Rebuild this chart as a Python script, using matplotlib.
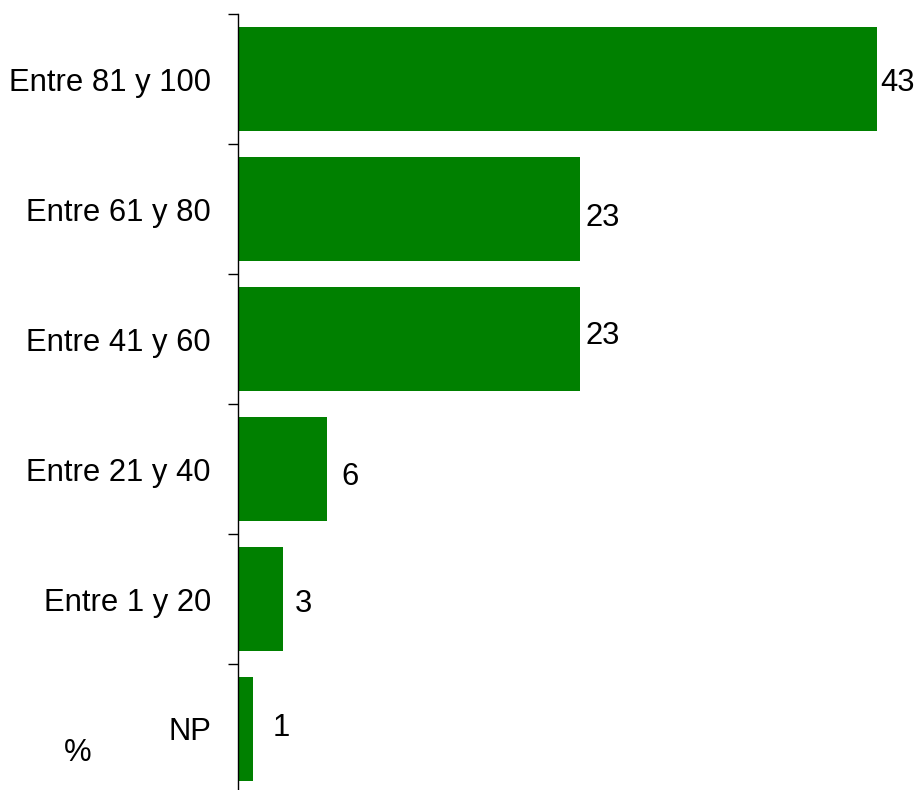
import numpy as np
import matplotlib
matplotlib.use("Agg")
import matplotlib.pyplot as plt

plt.rcParams["font.family"] = ["Liberation Sans", "DejaVu Sans"]

# data, top to bottom
categories = ["Entre 81 y 100", "Entre 61 y 80", "Entre 41 y 60",
              "Entre 21 y 40", "Entre 1 y 20", "NP"]
values = [43, 23, 23, 6, 3, 1]

W, H, DPI = 918, 790, 100
fig = plt.figure(figsize=(W / DPI, H / DPI), dpi=DPI)
ax = fig.add_axes([238 / W, -4 / H, (877 - 238) / W, 780 / H])

y = np.arange(len(categories))
ax.barh(y, values, height=0.8, color="#008000")
ax.set_xlim(0, 43)
ax.set_ylim(len(categories) - 0.5, -0.5)

fs = 22.3
ax.set_yticks(y)
ax.set_yticklabels(categories, fontsize=fs)
ax.set_yticks(np.arange(len(categories) + 1) - 0.5, minor=True)
ax.tick_params(axis="y", which="major", length=0, pad=19.5)
ax.tick_params(axis="y", which="minor", length=7.2, width=1, direction="out",
               color="black")
ax.set_xticks([])
for s in ["top", "right", "bottom"]:
    ax.spines[s].set_visible(False)
ax.spines["left"].set_linewidth(1)

# label offsets in pixels (gap right of bar, shift downward)
dx = [3, 6, 6, 14, 12, 20]
dy = [4, 9, -3, 8, 5, -1]
for i, v in enumerate(values):
    ax.annotate(str(v), xy=(v, i), xytext=(dx[i] * 0.72, -dy[i] * 0.72),
                textcoords="offset points", ha="left", va="center",
                fontsize=fs, color="black")

fig.text(64 / W, 1 - 753 / H, "%", fontsize=fs, ha="left", va="center")

fig.savefig("out.png", dpi=DPI)
